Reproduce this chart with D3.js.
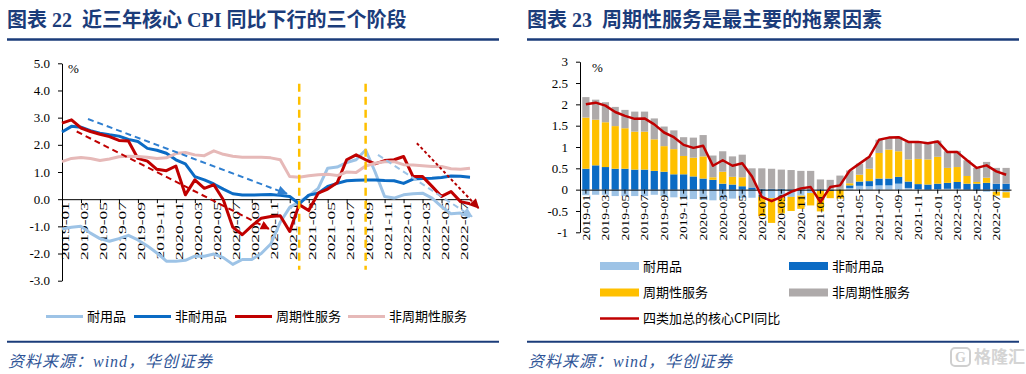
<!DOCTYPE html>
<html>
<head>
<meta charset="utf-8">
<script src="https://cdn.jsdelivr.net/npm/d3@7"></script>
<style>
  body { margin: 0; background: #fff; }
  svg text { font-family: 'Liberation Serif', 'Noto Sans CJK SC', serif; }
  .cjk { font-family: 'Noto Sans CJK SC', sans-serif !important; }
</style>
</head>
<body>
<svg id="chart" width="1026" height="374"></svg>
<script>
// Months shared by both panels
const months = [
  '2019-01','2019-02','2019-03','2019-04','2019-05','2019-06','2019-07','2019-08','2019-09','2019-10','2019-11','2019-12',
  '2020-01','2020-02','2020-03','2020-04','2020-05','2020-06','2020-07','2020-08','2020-09','2020-10','2020-11','2020-12',
  '2021-01','2021-02','2021-03','2021-04','2021-05','2021-06','2021-07','2021-08','2021-09','2021-10','2021-11','2021-12',
  '2022-01','2022-02','2022-03','2022-04','2022-05','2022-06','2022-07','2022-08'
];

// Left panel: YoY of the four groups (%)
const durableYoY = [-1.1,-1.03,-1.0,-1.25,-1.45,-1.55,-1.45,-1.33,-1.5,-1.72,-1.98,-2.28,-2.28,-2.25,-2.1,-2.1,-2.02,-2.15,-2.4,-2.22,
  -2.22,-2.0,-1.65,-0.85,-0.3,-0.1,0.12,0.4,1.14,1.18,1.35,1.45,1.81,1.0,0.1,0.04,0.16,0.2,0.22,0.04,-0.27,-0.54,-0.51,-0.64];
const nondurableYoY = [2.47,2.68,2.65,2.52,2.43,2.37,2.32,2.2,2.12,1.87,1.8,1.69,1.45,1.3,0.83,0.71,0.56,0.37,0.2,0.15,
  0.15,0.16,0.17,0.14,0.1,-0.17,0.15,0.22,0.47,0.58,0.68,0.7,0.71,0.71,0.69,0.68,0.58,0.74,0.76,0.77,0.8,0.85,0.84,0.81];
const cyclicalYoY = [2.8,2.92,2.62,2.49,2.39,2.3,2.16,2.14,1.5,1.4,1.1,1.05,1.22,0.16,0.71,0.4,0.53,-0.02,-1.03,-1.31,
  -0.98,-0.7,-0.64,-0.61,-1.19,-0.2,-0.42,0.22,0.37,0.6,1.45,1.63,1.45,1.3,1.42,1.45,1.57,0.83,0.83,0.47,0.1,0.28,-0.09,-0.17];
const noncyclicalYoY = [1.38,1.5,1.53,1.5,1.42,1.48,1.56,1.58,1.57,1.54,1.5,1.52,1.68,1.72,1.63,1.6,1.78,1.65,1.58,1.54,
  1.54,1.54,1.52,1.45,0.83,0.81,0.86,0.9,0.92,0.87,1.0,0.98,1.22,1.32,1.38,1.38,1.27,1.26,1.23,1.2,1.2,1.12,1.1,1.14];
const yTicksLeft = [-3, -2, -1, 0, 1, 2, 3, 4, 5];

// Left panel annotations: [month index, value]
const stageBreaks = ['2021-02', '2021-09'];
const stageBreakSpan = [4.25, -2.6];
const trendArrows = [
  { from: [2.74, 2.95], to: [23.7, 0.2], color: '#2f7fd0', dash: '6,4', head: [12, 10] },
  { from: [1.55, 2.49], to: [21.8, -1.09], color: '#c00000', dash: '6,4', head: [11, 9] },
  { from: [33.3, 1.63], to: [43.2, -0.64], color: '#9dc3e6', dash: '6,4', head: [12, 10] },
  { from: [37.4, 2.06], to: [43.9, -0.33], color: '#b40000', dash: '3,2.5', head: [12, 10] }
];

// Right panel: contributions to core CPI YoY (ppt)
const durableContrib = [-0.13,-0.12,-0.12,-0.15,-0.15,-0.15,-0.15,-0.12,-0.15,-0.18,-0.2,-0.22,-0.24,-0.25,-0.24,-0.21,-0.2,-0.19,-0.17,-0.2,
  -0.18,-0.17,-0.14,-0.08,-0.03,-0.01,0.01,0.04,0.09,0.08,0.1,0.1,0.14,0.04,0.01,0,0.01,0.02,0.02,0,-0.03,-0.05,-0.05,-0.06];
const nondurableContrib = [0.49,0.57,0.53,0.49,0.49,0.47,0.47,0.44,0.42,0.36,0.36,0.31,0.26,0.23,0.14,0.12,0.08,0.05,0.02,0.02,
  0.02,0.01,0.01,0.01,0.01,-0.02,0.01,0.06,0.1,0.12,0.16,0.16,0.16,0.15,0.12,0.12,0.13,0.14,0.16,0.14,0.14,0.16,0.14,0.14];
const cyclicalContrib = [1.2,1.07,1.05,1.0,0.95,0.89,0.89,0.74,0.6,0.59,0.43,0.44,0.52,0.06,0.28,0.18,0.21,0,-0.45,-0.58,
  -0.38,-0.33,-0.31,-0.29,-0.48,-0.17,-0.21,0.05,0.16,0.29,0.6,0.68,0.6,0.52,0.59,0.59,0.63,0.35,0.35,0.18,0.04,0.12,-0.09,-0.13];
const noncyclicalContrib = [0.48,0.47,0.47,0.45,0.43,0.47,0.47,0.49,0.46,0.44,0.44,0.47,0.5,0.51,0.48,0.48,0.53,0.45,0.48,0.47,
  0.45,0.45,0.43,0.43,0.23,0.23,0.31,0.3,0.26,0.27,0.31,0.27,0.34,0.41,0.41,0.37,0.38,0.39,0.38,0.37,0.33,0.37,0.37,0.37];
const coreCpi = [2.0,2.04,1.97,1.82,1.73,1.66,1.67,1.53,1.34,1.23,1.05,0.98,1.03,0.56,0.69,0.56,0.62,0.31,-0.17,-0.27,
  -0.17,-0.05,0.03,0.06,-0.29,0.06,0.1,0.45,0.61,0.77,1.17,1.22,1.23,1.12,1.12,1.09,1.13,0.88,0.88,0.69,0.51,0.57,0.43,0.35];
const yTicksRight = [-1, -0.5, 0, 0.5, 1, 1.5, 2, 2.5, 3];

const navy = '#1b3c7a';
const svg = d3.select('svg#chart');
const evenMonths = months.filter((m, i) => i % 2 === 0);

// Defs for arrow heads
const defs = svg.append('defs');
trendArrows.forEach((a, k) => {
  defs.append('marker')
    .attr('id', 'head' + k)
    .attr('viewBox', '0 0 10 10')
    .attr('refX', 9).attr('refY', 5)
    .attr('markerUnits', 'userSpaceOnUse')
    .attr('markerWidth', a.head[0]).attr('markerHeight', a.head[1])
    .attr('orient', 'auto')
    .append('path')
    .attr('d', 'M0,0L10,5L0,10Z')
    .attr('fill', a.color);
});

// Panel titles and rules
const panels = [
  { x0: 7, x1: 499, title: ['图表 ', '22', '  近三年核心 ', 'CPI', ' 同比下行的三个阶段'] },
  { x0: 527, x1: 1019, title: ['图表 ', '23', '  周期性服务是最主要的拖累因素'] }
];
panels.forEach(p => {
  const t = svg.append('text')
    .attr('x', p.x0).attr('y', 27)
    .attr('fill', navy)
    .attr('font-size', 20)
    .attr('font-weight', 'bold')
    .style('white-space', 'pre');
  p.title.forEach(s => t.append('tspan').text(s));
  svg.append('line')
    .attr('x1', p.x0).attr('x2', p.x1).attr('y1', 39.5).attr('y2', 39.5)
    .attr('stroke', navy).attr('stroke-width', 2.5);
  svg.append('line')
    .attr('x1', p.x0).attr('x2', p.x1).attr('y1', 341.7).attr('y2', 341.7)
    .attr('stroke', navy).attr('stroke-width', 2);
  svg.append('text')
    .attr('x', p.x0 + 1).attr('y', 367)
    .attr('fill', '#2f5597')
    .attr('font-size', 16)
    .attr('font-style', 'italic')
    .attr('letter-spacing', 1)
    .text('资料来源：wind，华创证券');
});

// ---------------- Left panel ----------------
const xL = d3.scalePoint().domain(months).range([62, 470]);
const iL = d3.scaleLinear().domain([0, months.length - 1]).range([62, 470]);
const yL = d3.scaleLinear().domain([-3, 5]).range([280.7, 63.3]);

const gxL = svg.append('g')
  .attr('transform', `translate(0,${yL(0)})`)
  .call(d3.axisBottom(xL).tickValues(evenMonths).tickSize(4).tickSizeOuter(0));
gxL.attr('font-family', null).attr('font-size', 11);
gxL.selectAll('text')
  .attr('x', 0).attr('y', 0).attr('dy', '0.35em')
  .attr('text-anchor', 'end')
  .attr('fill', '#000')
  .attr('transform', 'translate(3,3) rotate(-90) scale(1.58,1)');

const gyL = svg.append('g')
  .attr('transform', 'translate(62,0)')
  .call(d3.axisLeft(yL).tickValues(yTicksLeft).tickFormat(d => d.toFixed(1))
    .tickSize(4).tickPadding(8).tickSizeOuter(0));
gyL.attr('font-family', null).attr('font-size', 13);
gyL.selectAll('text').attr('fill', '#000');

svg.append('text').attr('x', 68).attr('y', 73).attr('font-size', 13).text('%');

const seriesLeft = [
  { name: '耐用品', values: durableYoY, color: '#9dc3e6' },
  { name: '非耐用品', values: nondurableYoY, color: '#0b6bc4' },
  { name: '周期性服务', values: cyclicalYoY, color: '#c00000' },
  { name: '非周期性服务', values: noncyclicalYoY, color: '#e6b9b8' }
];
const lineL = d3.line().x((d, i) => xL(months[i])).y(d => yL(d));
svg.append('g').selectAll('path')
  .data(seriesLeft)
  .enter()
  .append('path')
  .attr('d', d => lineL(d.values))
  .attr('fill', 'none')
  .attr('stroke', d => d.color)
  .attr('stroke-width', 3)
  .attr('stroke-linejoin', 'round');

// stage break lines
svg.append('g').selectAll('line')
  .data(stageBreaks)
  .enter()
  .append('line')
  .attr('x1', d => xL(d)).attr('x2', d => xL(d))
  .attr('y1', yL(stageBreakSpan[0])).attr('y2', yL(stageBreakSpan[1]))
  .attr('stroke', '#ffc000').attr('stroke-width', 2.5)
  .attr('stroke-dasharray', '8,5');

// trend arrows
svg.append('g').selectAll('line')
  .data(trendArrows)
  .enter()
  .append('line')
  .attr('x1', d => iL(d.from[0])).attr('y1', d => yL(d.from[1]))
  .attr('x2', d => iL(d.to[0])).attr('y2', d => yL(d.to[1]))
  .attr('stroke', d => d.color).attr('stroke-width', 2)
  .attr('stroke-dasharray', d => d.dash)
  .attr('marker-end', (d, k) => `url(#head${k})`);

// left legend
const legendLeftX = [46, 134, 235, 348];
const legL = svg.append('g').selectAll('g')
  .data(seriesLeft)
  .enter()
  .append('g')
  .attr('transform', (d, k) => `translate(${legendLeftX[k]},316.5)`);
legL.append('line').attr('x1', 0).attr('x2', 37)
  .attr('stroke', d => d.color).attr('stroke-width', 3);
legL.append('text').attr('class', 'cjk')
  .attr('x', 41).attr('dy', '0.36em').attr('font-size', 13)
  .text(d => d.name);

// ---------------- Right panel ----------------
const xR = d3.scaleBand().domain(months).range([581, 1011]).paddingInner(0.26).paddingOuter(0.13);
const yR = d3.scaleLinear().domain([-1, 3]).range([232.3, 61.7]);

const rows = months.map((m, i) => ({
  month: m,
  durable: durableContrib[i],
  nondurable: nondurableContrib[i],
  cyclical: cyclicalContrib[i],
  noncyclical: noncyclicalContrib[i]
}));
const keysR = ['durable', 'nondurable', 'cyclical', 'noncyclical'];
const colorR = { durable: '#9dc3e6', nondurable: '#0b6bc4', cyclical: '#ffc000', noncyclical: '#aeaaaa' };
const stacked = d3.stack().keys(keysR).offset(d3.stackOffsetDiverging)(rows);

svg.append('g').selectAll('g')
  .data(stacked)
  .enter()
  .append('g')
  .attr('fill', d => colorR[d.key])
  .selectAll('rect')
  .data(d => d)
  .enter()
  .append('rect')
  .attr('x', d => xR(d.data.month))
  .attr('width', xR.bandwidth())
  .attr('y', d => yR(Math.max(d[0], d[1])))
  .attr('height', d => Math.abs(yR(d[0]) - yR(d[1])));

const gxR = svg.append('g')
  .attr('transform', `translate(0,${yR(0)})`)
  .call(d3.axisBottom(xR).tickValues(evenMonths).tickSize(4).tickSizeOuter(0));
gxR.attr('font-family', null).attr('font-size', 11);
gxR.selectAll('text')
  .attr('x', 0).attr('y', 0).attr('dy', '0.35em')
  .attr('text-anchor', 'end')
  .attr('fill', '#000')
  .attr('transform', 'translate(0,5) rotate(-90) scale(1.25,1)');

const gyR = svg.append('g')
  .attr('transform', 'translate(580,0)')
  .call(d3.axisLeft(yR).tickValues(yTicksRight).tickFormat(d => String(d))
    .tickSize(4).tickPadding(8).tickSizeOuter(0));
gyR.attr('font-family', null).attr('font-size', 13);
gyR.selectAll('text').attr('fill', '#000');

svg.append('text').attr('x', 592).attr('y', 72).attr('font-size', 13).text('%');

const lineR = d3.line()
  .x((d, i) => xR(months[i]) + xR.bandwidth() / 2)
  .y(d => yR(d));
svg.append('path')
  .attr('d', lineR(coreCpi))
  .attr('fill', 'none')
  .attr('stroke', '#c00000')
  .attr('stroke-width', 2.5)
  .attr('stroke-linejoin', 'round');

// right legend
const legendRight = [
  { name: '耐用品', color: colorR.durable, x: 600, y: 266, kind: 'bar' },
  { name: '非耐用品', color: colorR.nondurable, x: 789, y: 266, kind: 'bar' },
  { name: '周期性服务', color: colorR.cyclical, x: 600, y: 292.5, kind: 'bar' },
  { name: '非周期性服务', color: colorR.noncyclical, x: 789, y: 292.5, kind: 'bar' },
  { name: '四类加总的核心CPI同比', color: '#c00000', x: 600, y: 318.5, kind: 'line' }
];
const legR = svg.append('g').selectAll('g')
  .data(legendRight)
  .enter()
  .append('g')
  .attr('transform', d => `translate(${d.x},${d.y})`);
legR.filter(d => d.kind === 'bar').append('rect')
  .attr('x', 0).attr('y', -4).attr('width', 39).attr('height', 8)
  .attr('fill', d => d.color);
legR.filter(d => d.kind === 'line').append('line')
  .attr('x1', 0).attr('x2', 39)
  .attr('stroke', d => d.color).attr('stroke-width', 2.5);
legR.append('text').attr('class', 'cjk')
  .attr('x', 43).attr('dy', '0.36em').attr('font-size', 13)
  .text(d => d.name);

// watermark
const wm = svg.append('g').attr('transform', 'translate(951,348)');
wm.append('rect').attr('width', 19).attr('height', 18).attr('rx', 4)
  .attr('fill', 'none').attr('stroke', '#cfcfcf').attr('stroke-width', 2);
wm.append('text').attr('x', 9.5).attr('y', 14).attr('text-anchor', 'middle')
  .attr('font-size', 14).attr('font-weight', 'bold').attr('fill', '#cfcfcf').text('G');
wm.append('text').attr('class', 'cjk').attr('x', 23).attr('y', 15)
  .attr('font-size', 17).attr('fill', '#d4d4d4').attr('font-weight', 'bold').text('格隆汇');
</script>
</body>
</html>
